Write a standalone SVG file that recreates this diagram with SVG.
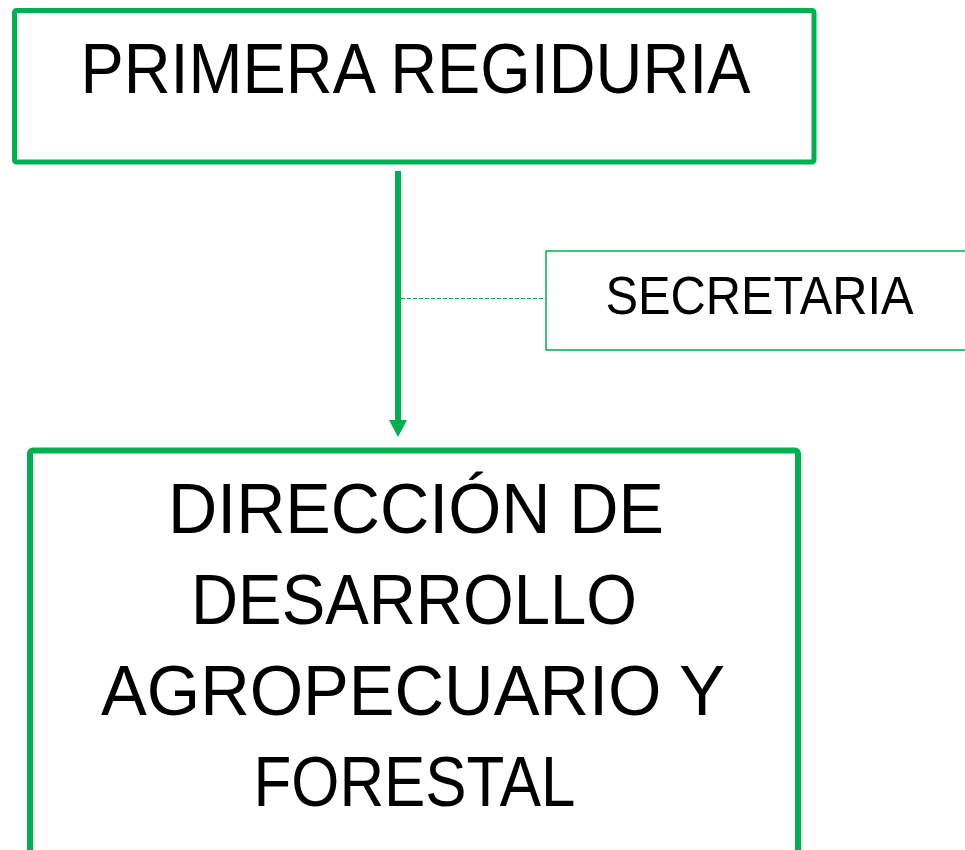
<svg xmlns="http://www.w3.org/2000/svg" width="965" height="850" viewBox="0 0 965 850">
<style>
.box{fill:#ffffff;stroke:#00B050;stroke-linejoin:round}
.t{font-family:"Liberation Sans",Arial,sans-serif;fill:#000000;text-anchor:middle}
</style>
<defs>
<marker id="ah" markerUnits="userSpaceOnUse" markerWidth="17" markerHeight="18" refX="1" refY="9" orient="auto" viewBox="0 0 17 18">
<polygon points="0,0 17,9 0,18" fill="#00B050"/>
</marker>
</defs>
<rect width="965" height="850" fill="#ffffff"/>
<g id="connectors">
<line x1="398" y1="171" x2="398" y2="421" stroke="#00B050" stroke-width="6" marker-end="url(#ah)"/>
<line x1="401" y1="298.5" x2="546" y2="298.5" stroke="#00B050" stroke-width="1" stroke-dasharray="4 2"/>
</g>
<g id="node-primera">
<rect class="box" x="14.5" y="10.5" width="799.5" height="151.5" rx="2" stroke-width="5"/>
<text class="t" x="415.5" y="93" font-size="70" textLength="670" lengthAdjust="spacingAndGlyphs">PRIMERA REGIDURIA</text>
</g>
<g id="node-secretaria">
<rect class="box" x="546" y="251" width="440" height="99" stroke-width="1.5"/>
<text class="t" x="759.5" y="314" font-size="54" textLength="308" lengthAdjust="spacingAndGlyphs">SECRETARIA</text>
</g>
<g id="node-direccion">
<rect class="box" x="30" y="450.5" width="768" height="460" rx="3" stroke-width="6"/>
<text class="t" x="416" y="533" font-size="70" textLength="496" lengthAdjust="spacingAndGlyphs">DIRECCIÓN DE</text>
<text class="t" x="414" y="624" font-size="70" textLength="446" lengthAdjust="spacingAndGlyphs">DESARROLLO</text>
<text class="t" x="413" y="715" font-size="70" textLength="624" lengthAdjust="spacingAndGlyphs">AGROPECUARIO Y</text>
<text class="t" x="414.5" y="806" font-size="70" textLength="322" lengthAdjust="spacingAndGlyphs">FORESTAL</text>
</g>
</svg>
